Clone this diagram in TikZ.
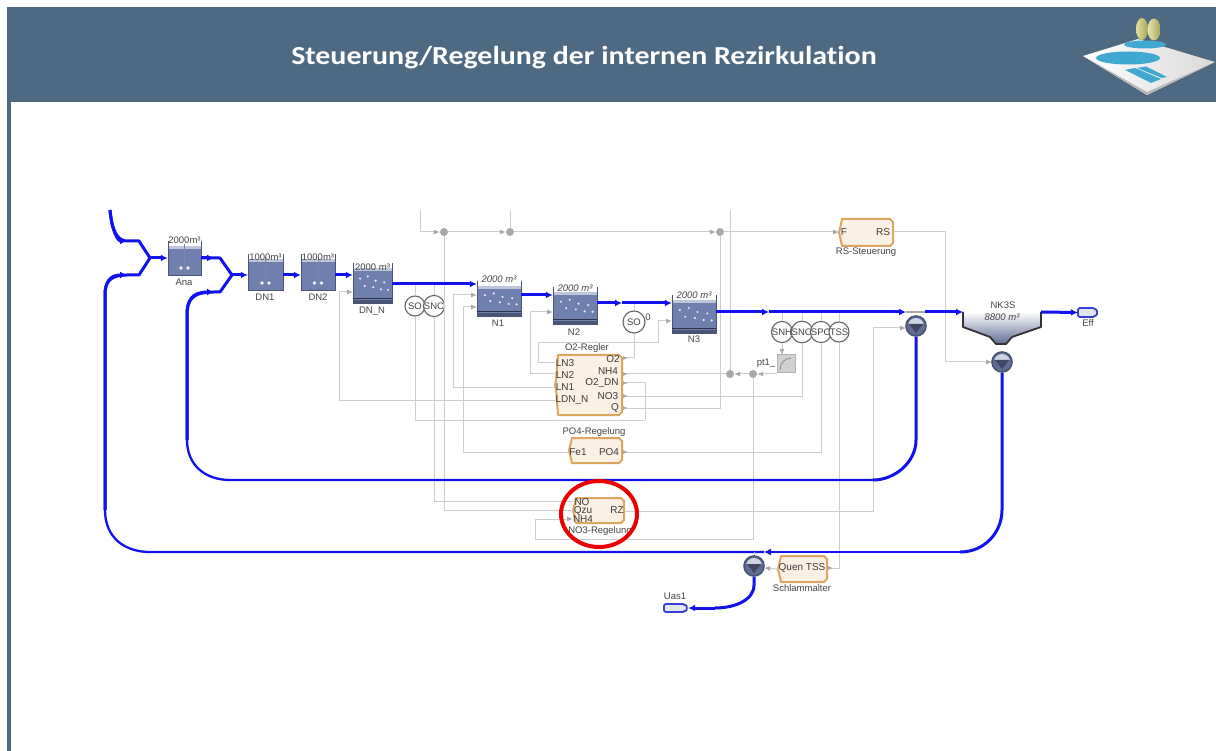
\documentclass[tikz,border=0pt]{standalone}
\usepackage{fontspec}
\setmainfont{Liberation Sans}
\newfontfamily\titlefont[Ligatures=CommonOff]{Carlito}
\usetikzlibrary{arrows.meta,calc,shapes.geometric}
\definecolor{hdr}{HTML}{4D6A82}
\definecolor{flowc}{HTML}{1212F0}
\definecolor{sigc}{HTML}{CDCDCD}
\definecolor{sigtip}{HTML}{A8A8A8}
\definecolor{txtc}{HTML}{454545}
\definecolor{tankc}{HTML}{7080AE}
\definecolor{tankd}{HTML}{4A5474}
\definecolor{boxf}{HTML}{FBF0E4}
\definecolor{boxd}{HTML}{DDA65E}
\definecolor{logob}{HTML}{41A9D1}
\tikzset{
 flow/.style={draw=flowc,line width=3pt,line join=round},
 flowthin/.style={draw=flowc,line width=2.3pt,line join=round},
 flowtip/.style={-{Latex[length=7pt,width=7pt]}},
 sig/.style={draw=sigc,line width=1pt},
 sigin/.style={draw=sigc,line width=1pt,-{Latex[length=6pt,width=5pt,sigtip]}},
 sigout/.style={draw=sigc,line width=1pt,{Latex[reversed,length=5pt,width=4pt,sigtip]}-},
 lab/.style={text=txtc,font=\fontsize{9.5}{10}\selectfont,inner sep=0pt},
 port/.style={text=txtc!85!black,font=\fontsize{10}{11}\selectfont,inner sep=0pt},
 sensor/.style={circle,draw=black!60,line width=1.1pt,fill=white,minimum size=20pt,inner sep=0pt,text=txtc,font=\fontsize{9.5}{10}\selectfont},
 junction/.style={circle,fill=sigtip,minimum size=8pt,inner sep=0pt},
 anchorbox/.style={inner sep=0pt,draw=none},
}
\newcommand{\tankbody}[5]{%
 \node[anchorbox,minimum width={#4-#2},minimum height={#5-#3}] (#1) at ({(#2+#4)/2},{(#3+#5)/2}) {};
 \fill[tankc] (#2,#3+5) rectangle (#4,#5);
 \fill[tankc!45!white] (#2,#3+5) rectangle (#4,#3+8);
 \draw[tankd,line width=1pt] (#2,#3) -- (#2,#5) -- (#4,#5) -- (#4,#3);
}
\newcommand{\mixdeco}[5]{%
 \draw[tankd!70!white,line width=0.7pt] ({(#2+#4)/2},#3+3) -- ({(#2+#4)/2},#5-7);
 \fill[white!90!tankc] ({(#2+#4)/2-3.5},#5-8) circle (1.8pt);
 \fill[white!90!tankc] ({(#2+#4)/2+3.5},#5-8) circle (1.8pt);
}
\newcommand{\airdeco}[5]{%
 \fill[tankd] (#2,#5-4) rectangle (#4,#5);
 \draw[tankd!60!black,line width=0.6pt] (#2,#5-6) -- (#4,#5-6);
 \foreach \ua/\va in {0.18/0.28,0.38/0.2,0.58/0.36,0.8/0.42,0.3/0.55,0.52/0.6,0.72/0.68,0.9/0.7}{
  \fill[white!85!tankc] ({#2+\ua*(#4-#2)},{#3+8+\va*(#5-#3-14)}) circle (1.2pt);
 }
}
\newcommand{\ctrlbox}[5]{%
 \node[anchorbox,minimum width={#4-#2},minimum height={#5-#3}] (#1) at ({(#2+#4)/2},{(#3+#5)/2}) {};
 \draw[fill=boxf,draw=boxd,line width=2pt,line join=round]
  (#2+3,#3) -- (#4-3,#3) -- (#4,#3+3) -- (#4,#5-3) -- (#4-3,#5) -- (#2+3,#5) -- (#2+1,{(#3+#5)/2+4}) -- (#2,{(#3+#5)/2}) -- (#2+1,{(#3+#5)/2-4}) -- cycle;
}
\newcommand{\pump}[3]{%
 \node[circle,minimum size=20pt,inner sep=0pt,draw=tankd,line width=1.6pt,fill=tankc!85!black] (#1) at (#2,#3) {};
 \begin{scope}
 \clip (#2,#3) circle (8);
 \fill[white!65!tankc] (#2-9,#3-9) rectangle (#2+9,#3-2);
 \end{scope}
 \fill[tankd!85!black] (#2-7,#3-2) -- (#2+7,#3-2) -- (#2,#3+7) -- cycle;
}
\newcommand{\outlet}[5]{%
 \node[anchorbox,minimum width={#4-#2},minimum height={#5-#3}] (#1) at ({(#2+#4)/2},{(#3+#5)/2}) {};
 \draw[draw=flowc!60!tankc,fill=white!80!tankc,line width=1.8pt,rounded corners=2pt] (#2,#3) -- (#4-3,#3) -- (#4,{(#3+#5)/2}) -- (#4-3,#5) -- (#2,#5) -- cycle;
}
\begin{document}
\begin{tikzpicture}[x=1pt,y=-1pt]
\useasboundingbox (0,0) rectangle (1216,751);
\fill[white] (0,0) rectangle (1216,751);
% header
\fill[hdr] (7,7) rectangle (1216,102);
\fill[hdr] (7,102) rectangle (11,751);
\node[text=white,inner sep=0pt,font=\titlefont\bfseries\fontsize{26}{30}\selectfont] (title) at (584,58) {\scalebox{1.15}[1]{Steuerung/Regelung der internen Rezirkulation}};
% logo
\shade[left color=white,right color=gray!30] (1083,56) -- (1138,39) -- (1215,62) -- (1147,95) -- cycle;
\fill[gray!55] (1083,56) -- (1147,95) -- (1215,62) -- (1147,92) -- cycle;
\fill[logob] (1145,44.5) ellipse (21 and 4);
\fill[logob] (1128,58) ellipse (32 and 6.5);
\fill[logob] (1125,70) -- (1135,68) -- (1161,79) -- (1151,83) -- cycle;
\fill[logob] (1137,68) -- (1146,66.5) -- (1167,77) -- (1162,78) -- cycle;
\shade[left color=olive!25!white,right color=olive!45!gray!70] (1142,29) ellipse (6 and 11);
\shade[left color=olive!20!white,right color=olive!45!gray!70] (1154,29.5) ellipse (6.5 and 11);
% routes
\coordinate (topA) at (420,210);
\coordinate (topB) at (510,210);
\coordinate (topC) at (730,210);
\node[junction] (j1) at (444,232) {};
\node[junction] (j2) at (510,232) {};
\node[junction] (j3) at (720,232) {};
\node[junction] (j4) at (730,374) {};
\node[junction] (j5) at (753,374) {};
% tanks
\tankbody{Ana}{168}{241}{201}{276}\mixdeco{Ana}{168}{241}{201}{276}
\tankbody{DNa}{248}{254}{283}{291}\mixdeco{DNa}{248}{254}{283}{291}
\tankbody{DNb}{301}{254}{335}{291}\mixdeco{DNb}{301}{254}{335}{291}
\tankbody{DNN}{353}{263}{392}{304}\airdeco{DNN}{353}{263}{392}{304}
\tankbody{Na}{477}{281}{521}{317}\airdeco{Na}{477}{281}{521}{317}
\tankbody{Nb}{553}{287}{597}{325}\airdeco{Nb}{553}{287}{597}{325}
\tankbody{Nc}{672}{295}{716}{334}\airdeco{Nc}{672}{295}{716}{334}
\node[lab] (vAna) at (184.5,240) {2000m³};
\node[lab] (vDNa) at (265.5,257) {1000m³};
\node[lab] (vDNb) at (318,257) {1000m³};
\node[lab] (vDNN) at (372.5,267) {2000 m³};
\node[lab,font=\fontsize{9.5}{10}\itshape] (vNa) at (499,279) {2000 m³};
\node[lab,font=\fontsize{9.5}{10}\itshape] (vNb) at (575,288) {2000 m³};
\node[lab,font=\fontsize{9.5}{10}\itshape] (vNc) at (694,295) {2000 m³};
\node[lab] (lAna) at (184,282) {Ana};
\node[lab] (lDNa) at (265,297) {DN1};
\node[lab] (lDNb) at (318,297) {DN2};
\node[lab] (lDNN) at (372,311) {DN\_N};
\node[lab] (lNa) at (498,323) {N1};
\node[lab] (lNb) at (574,332) {N2};
\node[lab] (lNc) at (694,339) {N3};
% settler
\node[anchorbox,minimum width=78pt,minimum height=32pt] (NK) at (1002,328) {};
\path[top color=white,bottom color=tankc!85!black]
 (963,312) -- (1041,312) -- (1041,327) -- (1012,337) -- (1006,344) -- (996,344) -- (990,337) -- (963,327) -- cycle;
\draw[black!80,line width=1.8pt,line join=round] (963,312) -- (963,327) -- (990,337) -- (996,344) -- (1006,344) -- (1012,337) -- (1041,327) -- (1041,312);
\node[lab] (lNK) at (1003,305) {NK3S};
\node[lab,font=\fontsize{9.5}{10}\itshape] (vNK) at (1002,317) {8800 m³};
% pumps
\draw[sigtip,line width=1.5pt] (906,312) -- (925,312);
\pump{P1}{916}{326}
\pump{P2}{1002}{362}
\pump{P3}{754}{566}
% outlets
\outlet{Eff}{1078}{308}{1098}{317}
\outlet{Uas}{664}{604}{688}{612}
\node[lab] (lEff) at (1088,323) {Eff};
\node[lab] (lUas) at (675,596) {Uas1};
% control boxes
\ctrlbox{RSb}{839}{219}{893}{246}
\ctrlbox{O2b}{555}{355}{622}{415}
\ctrlbox{POb}{569}{438}{622}{463}
\ctrlbox{NOb}{573}{498}{624}{523}
\ctrlbox{SAb}{778}{556}{827}{582}
\node[lab] (lRS) at (866,252) {RS-Steuerung};
\node[lab] (lO2) at (587,348) {O2-Regler};
\node[lab] (lPO) at (594,432) {PO4-Regelung};
\node[lab] (lNO) at (600,531) {NO3-Regelung};
\node[lab] (lSA) at (802,588) {Schlammalter};
\node[port] (pF) at (844,232) {F};
\node[port] (pRS) at (883,232) {RS};
\node[port] (pLN3) at (565,363) {LN3};
\node[port] (pLN2) at (565,375) {LN2};
\node[port] (pLN1) at (565,387) {LN1};
\node[port] (pLDN) at (572,400) {LDN\_N};
\node[port] (pO2) at (613,359) {O2};
\node[port] (pNH) at (608,371) {NH4};
\node[port] (pO2D) at (602,383) {O2\_DN};
\node[port] (pNOo) at (608,396) {NO3};
\node[port] (pQ) at (615,408) {Q};
\node[port] (pFe) at (578,452) {Fe1};
\node[port] (pPO) at (609,452) {PO4};
\node[port] (pNOi) at (582,502) {NO};
\node[port] (pQz) at (583,511) {Qzu};
\node[port] (pNHi) at (583,519) {NH4};
\node[port] (pRZ) at (617,510) {RZ};
\node[port] (pQT) at (802,568) {Quen TSS};
% sensors
\node[sensor] (sSO) at (415,306) {SO};
\node[sensor] (sSN) at (434,306) {SNC};
\node[sensor,minimum size=22pt] (sSOb) at (634,322) {SO};
\node[lab] (zero) at (648,317) {0};
\node[sensor] (sa) at (782,332) {SNH};
\node[sensor] (sb) at (802,332) {SNO};
\node[sensor] (sc) at (821,332) {SPO};
\node[sensor] (sd) at (839,332) {TSS};
\node[anchorbox,minimum size=18pt,fill=black!18,draw=black!30,line width=1pt] (pt) at (786,364) {};
\draw[black!45,line width=0.8pt] (780,370) .. controls (781,362) and (784,359) .. (791,358);
\node[lab] (lpt) at (766,363) {pt1\_};
% signal waypoints
\coordinate (pinDN) at (353,292);
\coordinate (wa) at (339,292);
\coordinate (wb) at (453,295);
\coordinate (pinNa1) at (477,295);
\coordinate (pinNa2) at (477,307);
\coordinate (wc) at (463,307);
\coordinate (pinNb) at (553,312);
\coordinate (wd) at (530,312);
\coordinate (pinNc) at (672,321);
\coordinate (we) at (658,321);
\coordinate (wf) at (658,343);
\coordinate (wg) at (538,343);
\coordinate (inLN3) at (555,363);
\coordinate (inLN2) at (555,374);
\coordinate (inLN1) at (555,387);
\coordinate (inLDN) at (555,400);
\coordinate (inFe) at (569,452);
\coordinate (inNO) at (573,501);
\coordinate (inQz) at (573,510);
\coordinate (inNH) at (573,519);
\coordinate (outO2) at (623,358);
\coordinate (outNH) at (623,374);
\coordinate (outDN) at (623,383);
\coordinate (outNO) at (623,396);
\coordinate (outQ) at (623,408);
\coordinate (outPO) at (623,452);
\coordinate (outRZ) at (625,511);
\coordinate (outRS) at (894,232);
\coordinate (inF) at (839,232);
\coordinate (outTSS) at (828,568);
\coordinate (inP1) at (906,328);
\coordinate (inP2) at (992,362);
\coordinate (inP3) at (764,568);
\coordinate (wh) at (645,420);
\coordinate (wh2) at (645,383);
\coordinate (wi) at (535,539);
\coordinate (wj) at (535,519);
\coordinate (wi2) at (753,539);
\coordinate (wk) at (873,511);
\coordinate (wl) at (945,362);
\coordinate (pta) at (777,374);
\coordinate (ptin) at (782,355);
\draw[sigin] (topA) |- (j1);
\draw[sigin] (j1) -- (j2);
\draw[sig] (topB) -- (j2);
\draw[sigin] (j2) -- (j3);
\draw[sigin] (j3) -- (inF);
\draw[sig] (topC) -- (j4);
\draw[sigout] (outQ) -| (j3);
\draw[sig] (j1) |- (inQz);
\draw[sig] (sSN) |- (inNO);
\draw[sig] (sSO) |- (wh);
\draw[sigout] (outDN) -- (wh2) -- (wh);
\draw[sigin] (inLDN) -| (wa) -- (pinDN);
\draw[sigin] (inLN1) -| (wb) -- (pinNa1);
\draw[sigin] (inFe) -| (wc) -- (pinNa2);
\draw[sigin] (inLN2) -| (wd) -- (pinNb);
\draw[sigin] (inLN3) -| (wg) -- (wf) -- (we) -- (pinNc);
\draw[sigout] (outO2) -| (sSOb);
\draw[sigout] (outNH) -- (j4);
\draw[sigin] (pta) -- (j5);
\draw[sigin] (j5) -- (j4);
\draw[sig] (j5) -- (wi2) -- (wi) -- (wj);
\draw[sigin] (wj) -- (inNH);
\draw[sigout] (outNO) -| (sb);
\draw[sigout] (outPO) -| (sc);
\draw[sigout] (outTSS) -| (sd);
\draw[sigout,-{Latex[length=6pt,width=5pt,sigtip]}] (outRZ) -- (wk) |- (inP1);
\draw[sigout,-{Latex[length=6pt,width=5pt,sigtip]}] (outRS) -| (wl) -- (inP2);
\draw[sigin] (SAb.west) -- (inP3);
\draw[sigin] (sa) -- (ptin);
\coordinate (rowA) at (0,284);
\coordinate (rowB) at (0,295);
\coordinate (rowC) at (0,303);
\coordinate (rowD) at (0,312);
\foreach \n in {sa,sb,sc,sd}{
 \draw[sig] (\n.north) -- (\n.north |- rowD);
}
\draw[sig] (sSO.north) -- (sSO.north |- rowA);
\draw[sig] (sSN.north) -- (sSN.north |- rowA);
\draw[sig] (sSOb.north) -- (sSOb.north |- rowC);
% flow waypoints
\coordinate (inflow) at (110,210);
\coordinate (m1) at (150,258);
\coordinate (m2) at (232,275);
\coordinate (markA) at (127,241);
\coordinate (markB) at (127,275);
\coordinate (markC) at (214,258);
\coordinate (markD) at (214,292);
\coordinate (ins) at (963,312);
\coordinate (retA) at (105,510);
\coordinate (retB) at (150,552);
\coordinate (retC) at (187,440);
\coordinate (retD) at (230,480);
\coordinate (retE) at (873,480);
\coordinate (retF) at (916,440);
\coordinate (retG) at (960,552);
\coordinate (retH) at (1002,510);
\coordinate (mk1) at (540,295);
\coordinate (mk2) at (622,303);
\coordinate (mk3) at (769,312);
\coordinate (mk4) at (906,312);
\coordinate (mk5) at (925,312);
\coordinate (mk6) at (764,552);
\coordinate (mk7) at (715,608);
% flow connectors
\draw[flow] (inflow) .. controls (112,232) and (118,241) .. (markA) -- (139,241) -- (m1);
\draw[flow,flowtip] (inflow) .. controls (112,232) and (118,241) .. (markA);
\draw[flow] (retA) -- (105,295) .. controls (105,282) and (110,275) .. (markB) -- (139,275) -- (m1);
\draw[flow,flowtip] (retA) -- (105,295) .. controls (105,282) and (110,275) .. (markB);
\draw[flow,flowtip] (m1) -- (Ana.west |- m1);
\draw[flow] (Ana.east |- m1) -- (220,258) -- (m2);
\draw[flow,flowtip] (Ana.east |- m1) -- (markC);
\draw[flow] (retC) -- (187,315) .. controls (187,300) and (192,292) .. (markD) -- (220,292) -- (m2);
\draw[flow,flowtip] (retC) -- (187,315) .. controls (187,300) and (192,292) .. (markD);
\draw[flow,flowtip] (m2) -- (DNa.west |- m2);
\draw[flow,flowtip] (DNa.east |- m2) -- (DNb.west |- m2);
\draw[flow,flowtip] (DNb.east |- m2) -- (DNN.west |- m2);
\draw[flow,flowtip] (DNN.east |- rowA) -- (Na.west |- rowA);
\draw[flow] (Na.east |- rowB) -- (mk1);
\draw[flow,flowtip] (mk1) -- (Nb.west |- rowB);
\draw[flow,flowtip] (Nb.east |- rowC) -- (mk2);
\draw[flow,flowtip] (mk2) -- (Nc.west |- rowC);
\draw[flow,flowtip] (Nc.east |- rowD) -- (mk3);
\draw[flow,flowtip] (mk3) -- (mk4);
\draw[flow,flowtip] (mk5) -- (ins);
\draw[flow,flowtip] (NK.east |- rowD) -- (Eff.west);
\draw[flow] (P1.south) -- (retF) .. controls (916,462) and (895,480) .. (retE);
\draw[flowthin] (retE) -- (retD) .. controls (205,480) and (187,465) .. (retC);
\draw[flow] (P2.south) -- (retH) .. controls (1002,532) and (985,552) .. (retG);
\draw[flowthin,flowtip] (retG) -- (mk6);
\draw[flowthin] (mk6) -- (retB) .. controls (125,552) and (105,538) .. (retA);
\draw[flow] (P3.south) -- (754,585) .. controls (754,600) and (735,608) .. (mk7);
\draw[flow,flowtip] (mk7) -- (Uas.east);
\draw[sig] (P3.north) -- (P3.north |- mk6);
% highlight
\node[ellipse,draw=red!92!black,line width=4pt,minimum width=76pt,minimum height=66pt,inner sep=0pt] (ring) at (599,514) {};
\end{tikzpicture}
\end{document}
